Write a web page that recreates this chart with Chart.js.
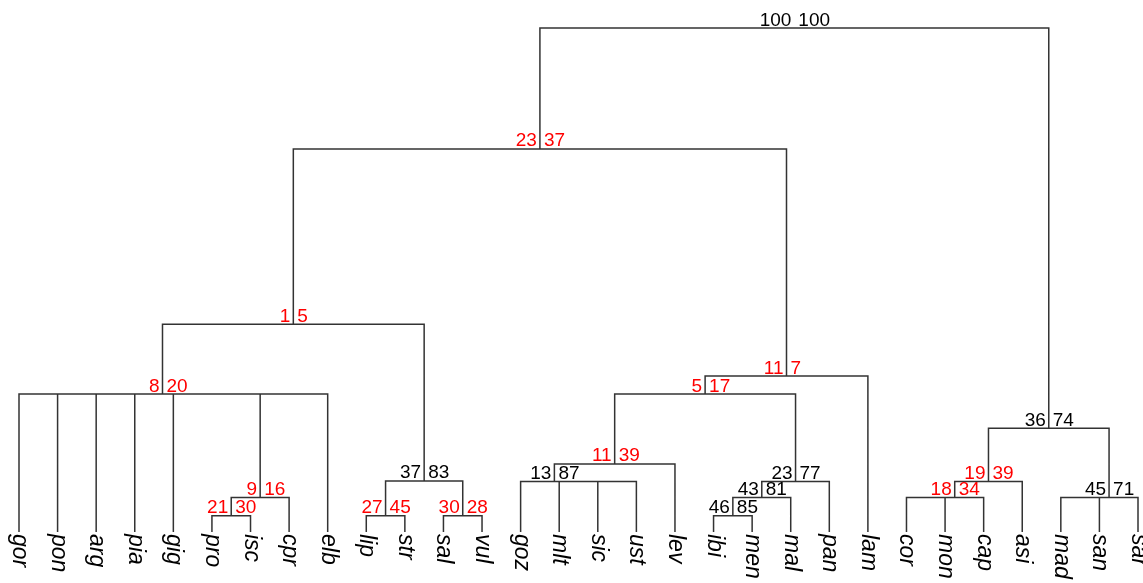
<!DOCTYPE html>
<html>
<head>
<meta charset="utf-8">
<title>Dendrogram</title>
<script src="https://cdn.jsdelivr.net/npm/chart.js@4"></script>
<style>
    body { margin: 0; background: #ffffff; }
    #treeChart { display: block; }
</style>
</head>
<body>
<canvas id="treeChart" width="1143" height="583"></canvas>
<script>
// leaves, left to right
const leafNames = ['gor', 'pon', 'arg', 'pia', 'gig', 'pro', 'isc', 'cpr', 'elb', 'lip',
    'str', 'sal', 'vul', 'goz', 'mlt', 'sic', 'ust', 'lev', 'ibi', 'men',
    'mal', 'pan', 'lam', 'cor', 'mon', 'cap', 'asi', 'mad', 'san', 'sar'];

// hclust style merges: negative = leaf number, positive = earlier merge (1-based)
const mergePairs = [
    [-6, -7], [1, -8], [-10, -11], [-12, -13], [3, 4],
    [-19, -20], [6, -21], [7, -22], [-16, -17], [-15, 9],
    [-14, 10], [11, -18], [12, 8], [13, -23], [-24, -25],
    [15, -26], [16, -27], [-28, -29], [18, -30], [17, 19],
    [-3, -4], [-2, 21], [-1, 22], [-5, 2], [24, -9],
    [23, 25], [26, 5], [27, 14], [28, 20]
];
const mergeHeights = [
    0.96, 2.03, 0.96, 0.96, 3.0,
    0.96, 2.03, 2.97, 2.97, 2.97,
    2.97, 4.0, 8.1, 9.16, 2.03,
    2.03, 2.97, 2.03, 2.03, 6.09,
    8.1, 8.1, 8.1, 8.1, 8.1,
    8.1, 12.2, 22.5, 29.6
];
// support values printed left / right of each node (null = collapsed split, no label)
const leftSupport = [
    21, 9, 27, 30, 37,
    46, 43, 23, null, null,
    13, 11, 5, 11, null,
    18, 19, null, 45, 36,
    null, null, null, null, null,
    8, 1, 23, 100
];
const rightSupport = [
    30, 16, 45, 28, 83,
    85, 81, 77, null, null,
    87, 39, 17, 7, null,
    34, 39, null, 71, 74,
    null, null, null, null, null,
    20, 5, 37, 100
];

document.addEventListener('DOMContentLoaded', function() {
    const canvas = document.getElementById('treeChart');
    if (!canvas) {
        console.error('canvas not found');
        return;
    }

    const lineColor = '#333333';
    const supportFont = "19px 'Liberation Sans', Arial, sans-serif";
    const leafFont = "italic 23px 'Liberation Sans', Arial, sans-serif";

    // position of every merge along the leaf axis
    const nodeX = [];
    function posOf(ref) {
        return ref < 0 ? (-ref - 1) : nodeX[ref - 1];
    }
    function heightOf(ref) {
        return ref < 0 ? 0 : mergeHeights[ref - 1];
    }
    mergePairs.forEach(function(pair) {
        nodeX.push((posOf(pair[0]) + posOf(pair[1])) / 2);
    });

    // one path for the whole tree, broken by null points, so overlapping bars are stroked once
    const treePoints = [];
    mergePairs.forEach(function(pair, i) {
        const h = mergeHeights[i];
        treePoints.push({ x: posOf(pair[0]), y: heightOf(pair[0]) });
        treePoints.push({ x: posOf(pair[0]), y: h });
        treePoints.push({ x: posOf(pair[1]), y: h });
        treePoints.push({ x: posOf(pair[1]), y: heightOf(pair[1]) });
        treePoints.push({ x: posOf(pair[1]), y: null });
    });

    const labelPlugin = {
        id: 'treeLabels',
        afterDatasetsDraw: function(chart) {
            const ctx = chart.ctx;
            const xs = chart.scales.x;
            const ys = chart.scales.y;

            ctx.save();
            ctx.font = supportFont;
            ctx.textBaseline = 'alphabetic';
            mergePairs.forEach(function(pair, i) {
                if (leftSupport[i] === null) return;
                const px = xs.getPixelForValue(nodeX[i]);
                const py = ys.getPixelForValue(mergeHeights[i]);
                ctx.fillStyle = rightSupport[i] >= 70 ? '#000000' : '#ff0000';
                ctx.textAlign = 'right';
                ctx.fillText(String(leftSupport[i]), px - 3, py - 2.5);
                ctx.textAlign = 'left';
                ctx.fillText(String(rightSupport[i]), px + 4, py - 2.5);
            });
            ctx.restore();

            ctx.save();
            ctx.font = leafFont;
            ctx.fillStyle = '#000000';
            ctx.textAlign = 'left';
            ctx.textBaseline = 'alphabetic';
            leafNames.forEach(function(name, i) {
                const px = xs.getPixelForValue(i);
                const py = ys.getPixelForValue(0);
                ctx.save();
                ctx.translate(px, py + 2);
                ctx.rotate(Math.PI / 2);
                ctx.fillText(name, 0, 6);
                ctx.restore();
            });
            ctx.restore();
        }
    };

    new Chart(canvas.getContext('2d'), {
        type: 'scatter',
        data: {
            datasets: [{
                data: treePoints,
                showLine: true,
                spanGaps: false,
                borderColor: lineColor,
                borderWidth: 1.5,
                pointRadius: 0,
                tension: 0,
                fill: false,
                clip: false
            }]
        },
        options: {
            responsive: false,
            animation: false,
            layout: {
                padding: { left: 19, right: 5, top: 28, bottom: 51 }
            },
            plugins: {
                legend: { display: false },
                tooltip: { enabled: false }
            },
            scales: {
                x: { type: 'linear', min: 0, max: leafNames.length - 1, display: false },
                y: { type: 'linear', min: 0, max: mergeHeights[mergeHeights.length - 1], display: false }
            }
        },
        plugins: [labelPlugin]
    });
});
</script>
</body>
</html>
